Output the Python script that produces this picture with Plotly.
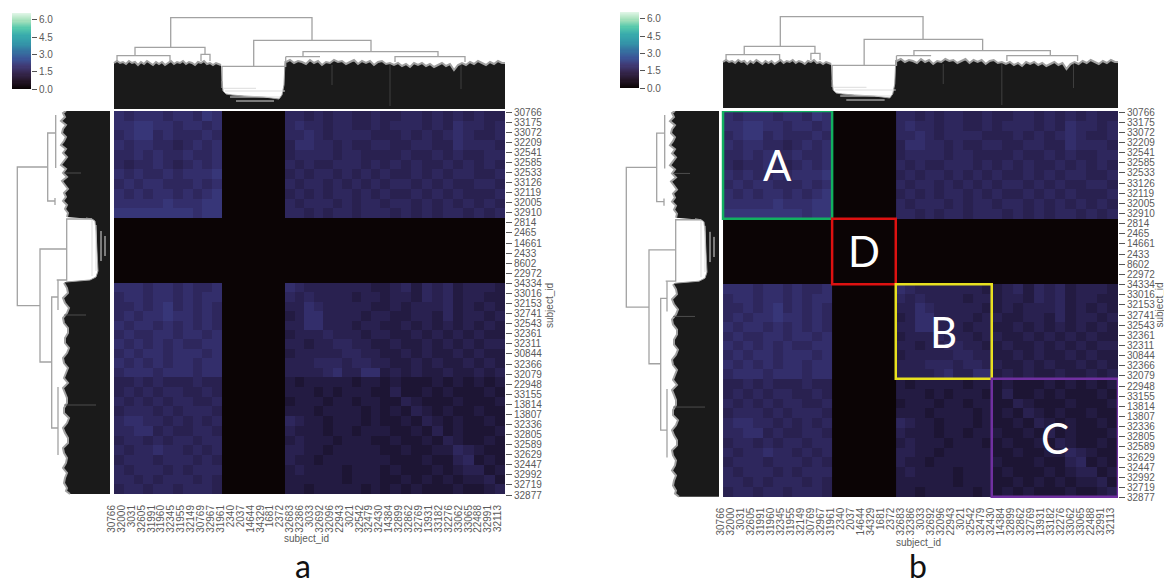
import numpy as np
import plotly.graph_objects as go

W, H = 1164, 588

# ---------- labels ----------
col_labels = ["30766","32000","3031","32605","31991","31960","32345","31955","32149","30769","32967","31961",
              "2340","2037","14644","34329","1681","2372","32683","32386","3033","32692","32096","22943",
              "3021","32542","32479","32430","14384","32899","32862","32769","13931","33182","32276","33062",
              "33065","22488","32991","32113"]
row_labels = ["30766","33175","33072","32209","32541","32585","32533","33126","32119","32005","32910",
              "2814","2465","14661","2433","8602","22972","34334","33016","32153","32741","32543","32361",
              "32311","30844","32366","32079","22948","33155","13814","13807","32336","32805","32589",
              "32629","32447","32992","32719","32877"]
col_tick_start, col_tick_step = -2.3, 9.905
row_tick_start, row_tick_step = 1.0, 10.08

# ---------- heat matrix: mean level of each zone, read as digit x unit ----------
digit_unit = 0.27
col_blocks = [0, 108, 171, 266, 391]      # leaf position of cluster boundaries
row_blocks = [0, 107, 172, 266, 383]
block_cells = [11, 6, 10, 12]
heat_rows = [
 "76777677687 000000 6656566556 556656565655",
 "77887767767 000000 6766566556 566656576656",
 "67886766676 000000 6676566665 556565676556",
 "76776656767 000000 5776656556 655665576665",
 "66767667667 000000 5666656655 556556565566",
 "65667656767 000000 6565566656 565655656565",
 "76766767778 000000 5656656565 655656566556",
 "67677666767 000000 6566565656 566565655665",
 "76767767678 000000 5656566565 655656565556",
 "77777877788 000000 6566656566 566565656565",
 "88888888788 000000 6656566566 656565665656",
 "00000000000 000000 0000000000 000000000000",
 "00000000000 000000 0000000000 000000000000",
 "00000000000 000000 0000000000 000000000000",
 "00000000000 000000 0000000000 000000000000",
 "00000000000 000000 0000000000 000000000000",
 "00000000000 000000 0000000000 000000000000",
 "77767767667 000000 7655555554 456465645554",
 "67767767677 000000 6565555455 455465645544",
 "66767867676 000000 5576555554 454555645454",
 "67677877676 000000 4577555545 544554645545",
 "76776767676 000000 5577555455 445454545454",
 "67667767767 000000 4555655545 544545454544",
 "76767676677 000000 5545566554 454454545455",
 "67677677767 000000 4555556655 445454454544",
 "76767677677 000000 5556665665 544545445454",
 "67776777677 000000 5555675577 454544544545",
 "55656555655 000000 4344444344 343334343434",
 "56565665565 000000 4443434443 353343433343",
 "65656566556 000000 3444344344 335433343334",
 "56665656665 000000 4443444434 343543433433",
 "67766565656 000000 6544344434 334354343343",
 "66775655665 000000 5444344344 433435343334",
 "56656566566 000000 4544434443 343343543343",
 "65667665656 000000 5544344444 334334465433",
 "56665666565 000000 5443444444 433343356343",
 "65666565666 000000 4544443444 343334345534",
 "66565666565 000000 4444443444 334343434453",
 "56656656665 000000 4434444434 343433343345",
]

# ---------- dendrogram outlines (leaf position, height) ----------
top_left_x = [0,3,6,9,12,15,18,21,24,27,30,33,36,39,42,45,48,51,54,57,60,63,66,69,72,75,78,81,84,87,90,93,96,99,102,105,107]
top_left_h = [46,48,46,47,45,48,46,47,44,47,45,48,46,44,47,45,47,44,46,48,45,47,46,48,45,47,46,44,47,46,48,45,46,44,46,45,44]
top_notch_x = [108,109,112,118,130,150,165,168,170,171]
top_notch_h = [28,18,15,14,13,12,10,14,24,48]
top_right_x = [172,176,180,184,188,192,196,200,204,208,212,216,220,224,228,232,236,240,244,248,252,256,260,264,268,272,276,280,284,288,292,296,300,304,308,312,316,320,324,328,332,336,340,344,348,352,356,360,364,368,372,376,380,384,388,391]
top_right_h = [47,49,46,48,47,45,49,46,48,44,47,46,49,47,48,45,47,49,45,48,46,48,44,47,48,45,46,44,46,43,45,42,46,44,46,43,45,42,44,46,43,45,39,44,46,44,47,45,48,46,44,47,45,48,46,46]

left_top_y = [0,2,6,10,14,18,22,26,30,34,38,42,46,50,54,58,62,66,70,74,78,82,86,90,94,98,102,106]
left_top_h = [44,47,45,49,44,47,48,44,46,49,44,47,43,46,49,44,47,43,48,45,42,46,44,47,43,45,42,43]
left_notch_y = [107,108,110,120,140,160,166,169,171]
left_notch_h = [24,18,15,14,13,12,14,20,44]
left_low_y = [172,177,182,187,192,197,202,207,212,217,222,227,232,237,242,247,252,257,262,267,272,277,282,287,292,297,302,307,312,317,322,327,332,337,342,347,352,357,362,367,372,377,380,383]
left_low_h = [46,43,42,47,45,41,43,47,46,42,42,45,45,41,43,47,46,42,44,46,42,47,45,43,43,46,46,41,43,47,45,42,42,47,46,43,44,47,43,45,46,43,44,40]

# ---------- dendrogram branches as (leaf positions, heights) ----------
top_branches = [
 ([56.7,56.7,198,198],[61.7,91.3,91.3,68.7]),
 ([21,21,91,91],[53.3,61.7,61.7,54.7]),
 ([3,3,56,56],[48,53.3,53.3,48]),
 ([87,87,96,96],[48,54.7,54.7,48]),
 ([139.7,139.7,257,257],[42.7,68.7,68.7,57.3]),
 ([108,108,171.7,171.7],[21,42.7,42.7,52.3]),
 ([171.7,206],[52.3,52.3]),
 ([189,189,324,324],[53,57.3,57.3,52.3]),
 ([281,281,351,351],[47,52.3,52.3,47]),
]
left_branches = [  # (heights, leaf positions)
 ([62.3,92.7,92.7,70],[56,56,194.7,194.7]),
 ([54.3,62.3,62.3,55],[22,22,90,90]),
 ([54.3,54.3],[4,57]),
 ([55,55],[87,94]),
 ([43.3,70,70,58.3],[138,138,251,251]),
 ([18,43.3,43.3,53.3],[108,108,169,169]),
 ([52,58.3,58.3,52],[186,186,317,317]),
 ([52,52],[169,199]),
 ([52,52],[276,344]),
]
top_streaks = ([218,218,None,276,276,None,347,347],[44,24,None,45,3,None,44,20])
left_streaks = ([46,29,None,46,24,None,46,14],[62,62,None,204,204,None,294,294])
top_notch_lines = ([110,142,None,111,171,None,116,166,None,122,160],[20.7,20.7,None,18,18,None,12,12,None,8,8])
left_notch_lines = ([18,18,None,14,14,None,9,9,None,5,5],[109,165,None,114,160,None,120,150,None,125,145])

mako = [[0.0,"#0B0405"],[0.1,"#231526"],[0.2,"#35264C"],[0.3,"#403A75"],[0.4,"#3B5698"],[0.5,"#3575A1"],
        [0.6,"#3497A9"],[0.7,"#38AAAC"],[0.8,"#55C8AC"],[0.9,"#A6E1BC"],[1.0,"#DEF5E5"]]
heat_scale = [[0.0,"#0B0405"],[0.1,"#1A122C"],[0.2,"#28204E"],[0.3,"#35306F"],[0.4,"#3C4690"],[1.0,"#DEF5E5"]]
z_max = 6.6
cb_ticks = [0.0,1.5,3.0,4.5,6.0]
cb_levels = [i*0.1 for i in range(67)]
TXT = "#5a5a5a"
LINE = "#a2a2a2"
MASS = "#1a1a1a"
EDGE = "#a0a0a0"
FONT = "Liberation Sans"

def edges(blocks, counts):
    out = [float(blocks[0])]
    for i, n in enumerate(counts):
        out += list(np.linspace(blocks[i], blocks[i+1], n+1)[1:])
    return out

z = [[int(c)*digit_unit for c in r.replace(" ", "")] for r in heat_rows]
xe, ye = edges(col_blocks, block_cells), edges(row_blocks, block_cells)
col_ticks = [col_tick_start + i*col_tick_step for i in range(len(col_labels))]
row_ticks = [row_tick_start + i*row_tick_step for i in range(len(row_labels))]

def px(x): return x / W
def py(y): return 1 - y / H

fig = go.Figure()
annots, shapes = [], []
layout = {}

def join(branches):
    xs, ys = [], []
    for a, b in branches:
        xs += list(a) + [None]; ys += list(b) + [None]
    return xs, ys

panels = [
    dict(heat=(111,505,111,496.0), top=(111,505,0,109), left=(0,110,111,496.0), cb=(12,31,13,89),
         xt=(306,538), yt=(549,306), tag=("a",303)),
    dict(heat=(720,1118,111,498.7), top=(720,1118,0,108), left=(609,719,111,498.7), cb=(620,639,12,88),
         xt=(918,542), yt=(1158.5,305), tag=("b",918)),
]

def nm(i): return "" if i == 1 else str(i)

n = 1
for P in panels:
    hx, tx, lx, cx = n, n+1, n+2, n+3
    n += 4
    # heat
    fig.add_trace(go.Heatmap(z=z, x=xe, y=ye, zmin=0, zmax=z_max, colorscale=heat_scale, showscale=False,
                             xaxis="x"+nm(hx), yaxis="y"+nm(hx), hoverinfo="skip"))
    x0,x1,y0,y1 = P["heat"]
    layout["xaxis"+nm(hx)] = dict(domain=[px(x0),px(x1)], range=[-3,391], anchor="y"+nm(hx), side="bottom",
        tickmode="array", tickvals=col_ticks, ticktext=col_labels, tickangle=-90, ticks="outside", ticklen=4,
        tickcolor="rgba(0,0,0,0)", tickfont=dict(size=10,color=TXT,family=FONT), showgrid=False, zeroline=False, showline=False)
    layout["yaxis"+nm(hx)] = dict(domain=[py(y1),py(y0)], range=[385,0], anchor="x"+nm(hx), side="right",
        tickmode="array", tickvals=row_ticks, ticktext=row_labels, ticks="outside", ticklen=6, tickwidth=1,
        tickcolor="#555555", tickfont=dict(size=10,color=TXT,family=FONT), showgrid=False, zeroline=False, showline=False)
    # top dendrogram
    a = dict(xaxis="x"+nm(tx), yaxis="y"+nm(tx), hoverinfo="skip", showlegend=False)
    ox = top_left_x+top_notch_x+top_right_x
    oh = top_left_h+top_notch_h+top_right_h
    fig.add_trace(go.Scatter(x=[0]+ox+[391], y=[0]+oh+[0], mode="lines", fill="toself", fillcolor=MASS, line=dict(width=0), **a))
    fig.add_trace(go.Scatter(x=top_left_x+[None]+top_right_x, y=top_left_h+[None]+top_right_h, mode="lines", line=dict(color=EDGE,width=2), **a))
    fig.add_trace(go.Scatter(x=top_notch_x, y=top_notch_h, mode="lines", line=dict(color=EDGE,width=1), **a))
    fig.add_trace(go.Scatter(x=top_notch_lines[0], y=top_notch_lines[1], mode="lines", line=dict(color="#dddddd",width=1), **a))
    fig.add_trace(go.Scatter(x=top_streaks[0], y=top_streaks[1], mode="lines", line=dict(color="#4a4a4a",width=0.8), **a))
    bx, by = join(top_branches)
    fig.add_trace(go.Scatter(x=bx, y=by, mode="lines", line=dict(color=LINE,width=1.3), **a))
    x0,x1,y0,y1 = P["top"]
    layout["xaxis"+nm(tx)] = dict(domain=[px(x0),px(x1)], range=[-3,391], visible=False, anchor="y"+nm(tx))
    layout["yaxis"+nm(tx)] = dict(domain=[py(y1),py(y0)], range=[0,y1-y0], visible=False, anchor="x"+nm(tx))
    # left dendrogram
    a = dict(xaxis="x"+nm(lx), yaxis="y"+nm(lx), hoverinfo="skip", showlegend=False)
    oy = left_top_y+left_notch_y+left_low_y
    oh = left_top_h+left_notch_h+left_low_h
    fig.add_trace(go.Scatter(x=[0]+oh+[0], y=[0]+oy+[383], mode="lines", fill="toself", fillcolor=MASS, line=dict(width=0), **a))
    fig.add_trace(go.Scatter(x=left_top_h+[None]+left_low_h, y=left_top_y+[None]+left_low_y, mode="lines", line=dict(color=EDGE,width=2), **a))
    fig.add_trace(go.Scatter(x=left_notch_h, y=left_notch_y, mode="lines", line=dict(color=EDGE,width=1), **a))
    fig.add_trace(go.Scatter(x=left_notch_lines[0], y=left_notch_lines[1], mode="lines", line=dict(color="#dddddd",width=1), **a))
    fig.add_trace(go.Scatter(x=left_streaks[0], y=left_streaks[1], mode="lines", line=dict(color="#5a5a5a",width=0.8), **a))
    bx, by = join(left_branches)
    fig.add_trace(go.Scatter(x=bx, y=by, mode="lines", line=dict(color=LINE,width=1.3), **a))
    x0,x1,y0,y1 = P["left"]
    layout["xaxis"+nm(lx)] = dict(domain=[px(x0),px(x1)], range=[x1-x0,0], visible=False, anchor="y"+nm(lx))
    layout["yaxis"+nm(lx)] = dict(domain=[py(y1),py(y0)], range=[385,0], visible=False, anchor="x"+nm(lx))
    # colour bar
    x0,x1,y0,y1 = P["cb"]
    fig.add_trace(go.Heatmap(z=[[v] for v in cb_levels], x=[0,1], y=[i*0.1-0.05 for i in range(len(cb_levels)+1)],
                             zmin=0, zmax=z_max, colorscale=mako, showscale=False,
                             xaxis="x"+nm(cx), yaxis="y"+nm(cx), hoverinfo="skip"))
    layout["xaxis"+nm(cx)] = dict(domain=[px(x0),px(x1)], range=[0,1], visible=False, anchor="y"+nm(cx))
    layout["yaxis"+nm(cx)] = dict(domain=[py(y1),py(y0)], range=[0,z_max], anchor="x"+nm(cx), side="right",
        tickmode="array", tickvals=cb_ticks, ticktext=["0.0","1.5","3.0","4.5","6.0"], ticks="outside", ticklen=5,
        tickcolor="#555555", tickfont=dict(size=10,color=TXT,family=FONT), showgrid=False, zeroline=False, showline=False)
    # axis names and panel tag
    annots.append(dict(x=px(P["xt"][0]), y=py(P["xt"][1]), xref="paper", yref="paper", text="subject_id", showarrow=False,
                       font=dict(size=10,color=TXT,family=FONT), xanchor="center", yanchor="middle"))
    annots.append(dict(x=px(P["yt"][0]), y=py(P["yt"][1]), xref="paper", yref="paper", text="subject_id", showarrow=False, textangle=-90,
                       font=dict(size=10,color=TXT,family=FONT), xanchor="center", yanchor="middle"))
    annots.append(dict(x=px(P["tag"][1]), y=py(587), xref="paper", yref="paper", text=P["tag"][0], showarrow=False,
                       font=dict(size=32,color="#111111",family="Lato"), xanchor="center", yanchor="bottom"))

# annotated clusters on panel b (its heat axes are the fifth pair)
cluster_names = ["A","D","B","C"]
cluster_colors = ["#12B060","#DD1111","#E8E020","#7030A0"]
for i, (nm_, c) in enumerate(zip(cluster_names, cluster_colors)):
    x0,x1 = col_blocks[i], col_blocks[i+1]
    y0,y1 = row_blocks[i], row_blocks[i+1]
    shapes.append(dict(type="rect", xref="x5", yref="y5", x0=x0, x1=x1, y0=y0, y1=y1, line=dict(color=c,width=2.5), layer="above"))
    annots.append(dict(x=(x0+x1)/2, y=(y0+y1)/2, xref="x5", yref="y5", text=nm_, showarrow=False,
                       font=dict(size=42,color="white",family="Lato"), xanchor="center", yanchor="middle"))

fig.update_layout(width=W, height=H, margin=dict(l=0,r=0,t=0,b=0,autoexpand=False), autosize=False,
                  paper_bgcolor="white", plot_bgcolor="white", showlegend=False,
                  annotations=annots, shapes=shapes, **layout)
fig.write_html("out.html", config={"displayModeBar": False},
               post_script="document.body.style.margin='0';document.body.style.overflow='hidden';")
